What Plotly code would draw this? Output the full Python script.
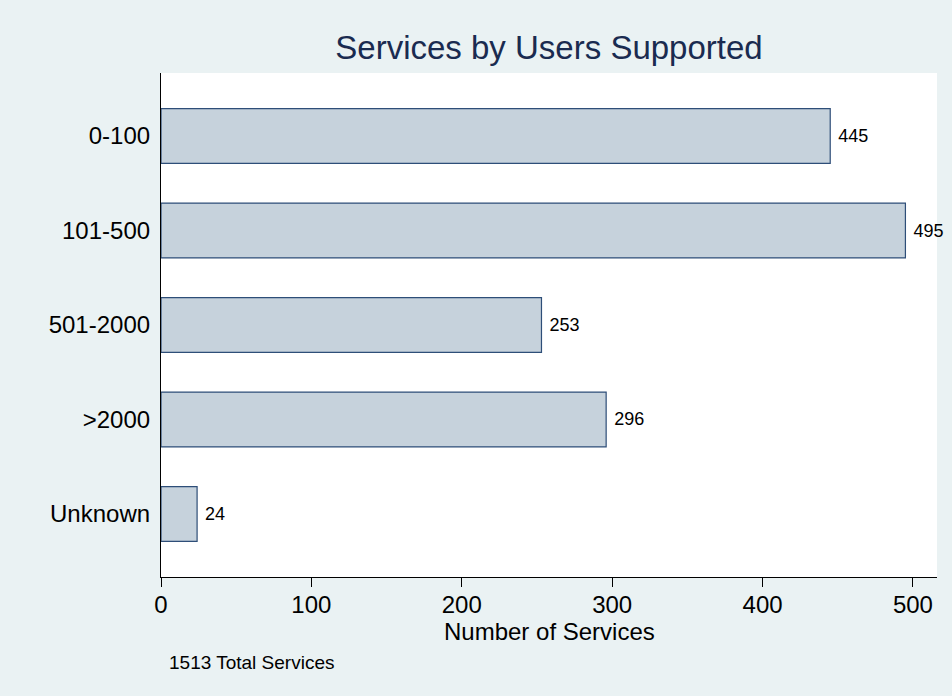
import plotly.graph_objects as go

categories = ["0-100", "101-500", "501-2000", ">2000", "Unknown"]
services = [445, 495, 253, 296, 24]
x_ticks = [0, 100, 200, 300, 400, 500]

FONT = "Liberation Sans, Arial, Helvetica, sans-serif"
BG = "#EAF2F3"

fig = go.Figure(
    go.Bar(
        y=categories,
        x=services,
        orientation="h",
        width=0.58,
        marker=dict(color="#C6D2DC", line=dict(color="#2E4E78", width=1.2)),
        text=[f" {v}" for v in services],
        textposition="outside",
        textfont=dict(family=FONT, size=18, color="#000000"),
        cliponaxis=False,
        hoverinfo="skip",
    )
)

fig.update_layout(
    width=952,
    height=696,
    paper_bgcolor=BG,
    plot_bgcolor="#FFFFFF",
    margin=dict(l=161, r=15, t=73, b=119),
    showlegend=False,
    font=dict(family=FONT, color="#000000"),
    title=dict(
        text="Services by Users Supported",
        font=dict(family=FONT, size=33, color="#1A2B50"),
        x=(161 + 937) / 2 / 952,
        xanchor="center",
        y=1 - 47 / 696,
        yanchor="middle",
    ),
    xaxis=dict(
        range=[0, 516],
        tickvals=x_ticks,
        ticktext=[str(t) for t in x_ticks],
        ticks="outside",
        ticklen=9,
        tickwidth=1.2,
        tickcolor="#000000",
        tickfont=dict(size=24),
        ticklabelstandoff=-3,
        showline=True,
        linecolor="#000000",
        linewidth=1.2,
        showgrid=False,
        zeroline=False,
    ),
    yaxis=dict(
        categoryorder="array",
        categoryarray=categories,
        autorange=False,
        range=[len(categories) - 1 + 0.667, -0.667],
        showline=True,
        linecolor="#000000",
        linewidth=1.2,
        ticks="",
        ticklabelstandoff=5,
        tickfont=dict(size=24),
        showgrid=False,
        zeroline=False,
    ),
    annotations=[
        dict(
            text="Number of Services",
            xref="paper",
            yref="paper",
            x=0.5,
            y=-(631 - 577) / 504,
            xanchor="center",
            yanchor="middle",
            showarrow=False,
            font=dict(family=FONT, size=24, color="#000000"),
        ),
        dict(
            text=f"{sum(services)} Total Services",
            xref="paper",
            yref="paper",
            x=6 / 776,
            y=-(662 - 577) / 504,
            xanchor="left",
            yanchor="middle",
            showarrow=False,
            font=dict(family=FONT, size=19, color="#000000"),
        ),
    ],
)

fig.write_html(
    "out.html",
    config={"displayModeBar": False},
    post_script="document.body.style.margin='0';document.body.style.background='#EAF2F3';",
)
